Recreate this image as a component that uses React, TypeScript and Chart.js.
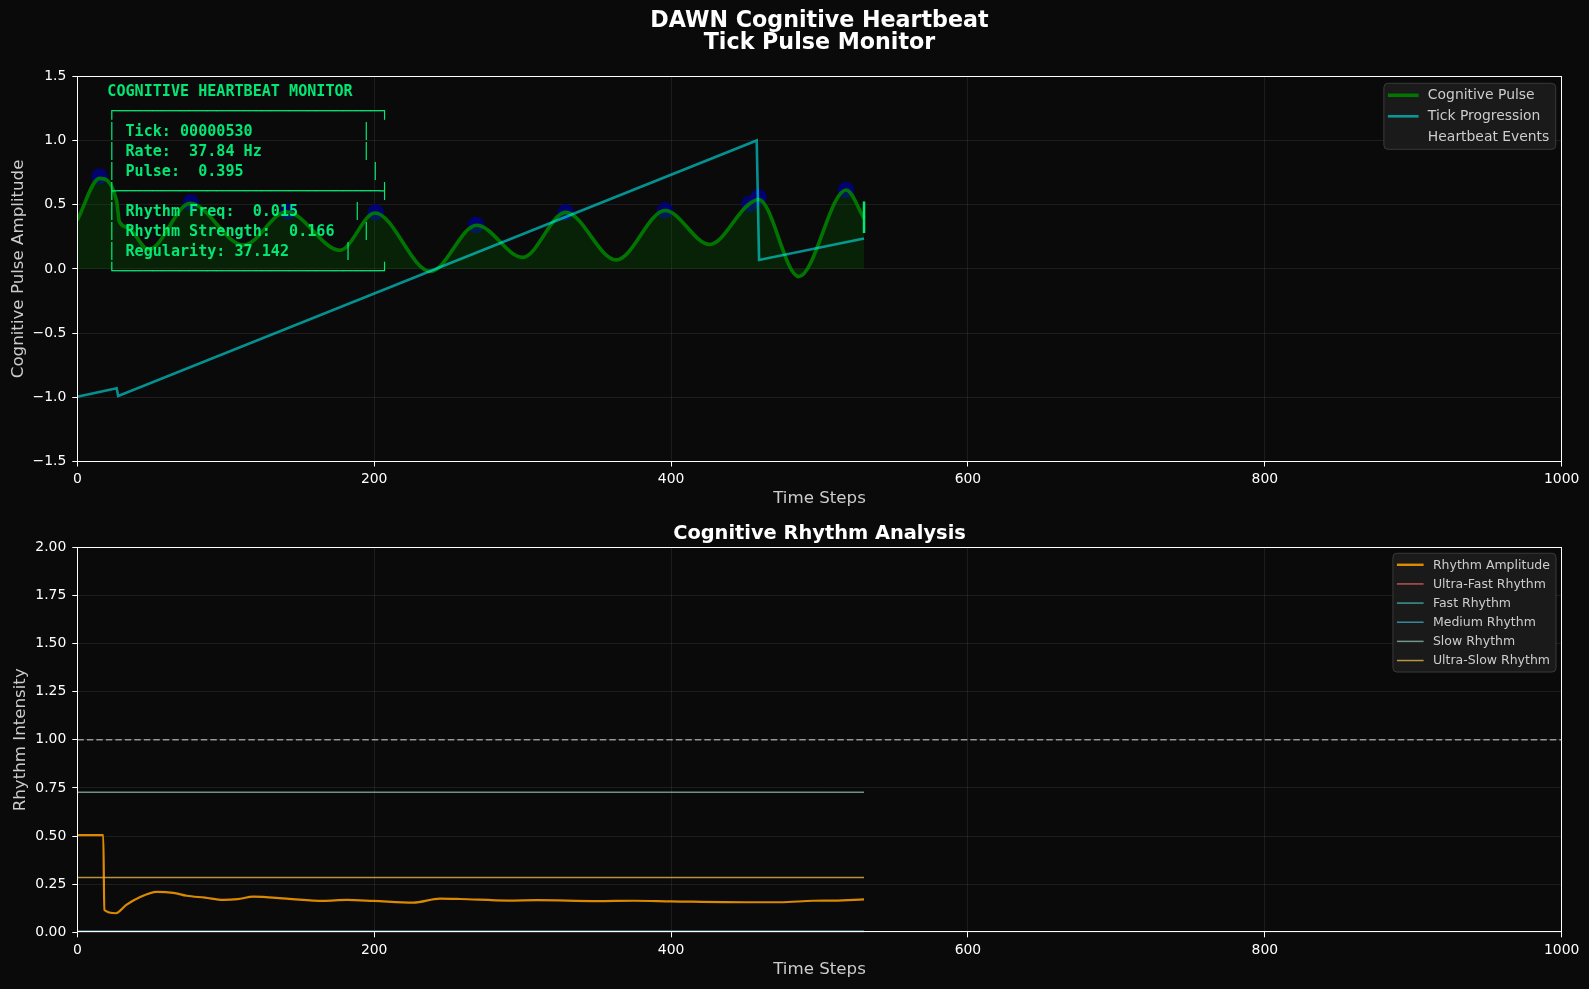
import React, { useEffect, useRef } from 'react';
import { Chart, registerables } from 'chart.js';

Chart.register(...registerables);

const FONT = "'DejaVu Sans', sans-serif";
const MONO = "'DejaVu Sans Mono', monospace";

// ---------- Top panel data ----------
const topTitle = ['DAWN Cognitive Heartbeat', 'Tick Pulse Monitor'];

const pulseSteps = [0, 15, 26.5, 28.3, 34.5, 48, 76, 112, 141, 177, 200.5, 238, 269, 300, 329, 363, 396, 426, 452, 459, 486, 518, 530];
const pulseValues = [0.38, 0.705, 0.53, 0.37, 0.32, 0.15, 0.51, 0.185, 0.445, 0.145, 0.435, -0.02, 0.34, 0.09, 0.44, 0.07, 0.455, 0.19, 0.5, 0.54, -0.06, 0.615, 0.395];

const tickSteps = [0, 26.5, 27.6, 457.7, 459.3, 530];
const tickValues = [-0.995, -0.93, -0.99, 1.0, 0.07, 0.237];

const eventSteps = [15, 76.5, 142, 201, 268.6, 329, 396, 452.7, 459, 517.8];
const eventValues = [0.72, 0.516, 0.446, 0.44, 0.343, 0.44, 0.455, 0.506, 0.558, 0.615];

const cursorSteps = [530, 530];
const cursorValues = [0.28, 0.525];

const monitorLines = [
  'COGNITIVE HEARTBEAT MONITOR',
  '┌' + '─'.repeat(29) + '┐',
  '│ Tick: 00000530            │',
  '│ Rate:  37.84 Hz           │',
  '│ Pulse:  0.395              │',
  '├' + '─'.repeat(29) + '┤',
  '│ Rhythm Freq:  0.015      │',
  '│ Rhythm Strength:  0.166   │',
  '│ Regularity: 37.142      │',
  '└' + '─'.repeat(29) + '┘',
];

// ---------- Bottom panel data ----------
const bottomTitle = 'Cognitive Rhythm Analysis';

const amplitudeSteps = [0, 17.5, 18.2, 26, 33, 42, 53.5, 64.7, 73.7, 86, 98.4, 108, 118.6, 141, 165.7, 181.5, 199.4, 226.4, 244.3, 257.8, 290, 310, 350, 375, 400, 450, 473.4, 495.7, 510, 530];
const amplitudeValues = [0.505, 0.505, 0.116, 0.099, 0.142, 0.182, 0.21, 0.205, 0.19, 0.18, 0.168, 0.172, 0.185, 0.175, 0.163, 0.168, 0.163, 0.154, 0.175, 0.173, 0.165, 0.167, 0.162, 0.164, 0.161, 0.156, 0.156, 0.164, 0.165, 0.171];

const bandSteps = [0, 530];
const ultraFastLevel = [0.002, 0.002];
const fastLevel = [0.004, 0.004];
const mediumLevel = [0.006, 0.006];
const slowLevel = [0.727, 0.727];
const ultraSlowLevel = [0.285, 0.285];

const refSteps = [0, 1000];
const refValues = [1.0, 1.0];

const pts = (xs: number[], ys: number[]) => xs.map((x, i) => ({ x, y: ys[i] }));

// ---------- Plugins ----------
const framePlugin = {
  id: 'frame',
  afterDraw(chart: any) {
    const { ctx, chartArea } = chart;
    const l = Math.round(chartArea.left) + 0.5;
    const t = Math.round(chartArea.top) + 0.5;
    const r = Math.round(chartArea.right) - 0.5;
    const b = Math.round(chartArea.bottom) - 0.5;
    ctx.save();
    ctx.strokeStyle = '#ffffff';
    ctx.lineWidth = 1;
    ctx.strokeRect(l, t, r - l, b - t);
    ctx.restore();
  },
};

const insideLegendPlugin = {
  id: 'insideLegend',
  afterDraw(chart: any, _args: any, opts: any) {
    if (!opts || !opts.display) return;
    const { ctx, chartArea } = chart;
    const items = chart.data.datasets.filter((d: any) => d.label);
    ctx.save();
    ctx.font = `${opts.fontSize}px ${FONT}`;
    const maxW = Math.max(...items.map((d: any) => ctx.measureText(d.label).width));
    const w = opts.inset + opts.handle + opts.gap + maxW + opts.padRight;
    const h = opts.rowTop * 2 + (items.length - 1) * opts.row;
    const x = chartArea.right - opts.marginRight - w;
    const y = chartArea.top + opts.marginTop;
    ctx.beginPath();
    ctx.roundRect(x, y, w, h, 4);
    ctx.fillStyle = 'rgba(28,28,28,0.92)';
    ctx.fill();
    ctx.strokeStyle = '#3a3a3a';
    ctx.lineWidth = 1;
    ctx.stroke();
    items.forEach((d: any, i: number) => {
      const cy = y + opts.rowTop + i * opts.row;
      if (d.showLine !== false) {
        ctx.beginPath();
        ctx.moveTo(x + opts.inset, cy);
        ctx.lineTo(x + opts.inset + opts.handle, cy);
        ctx.strokeStyle = d.borderColor;
        ctx.lineWidth = d.legendWidth || d.borderWidth;
        ctx.stroke();
      }
      ctx.fillStyle = '#cccccc';
      ctx.textBaseline = 'middle';
      ctx.textAlign = 'left';
      ctx.fillText(d.label, x + opts.inset + opts.handle + opts.gap, cy + 0.5);
    });
    ctx.restore();
  },
};

const monitorPlugin = {
  id: 'monitor',
  afterDatasetsDraw(chart: any, _args: any, opts: any) {
    if (!opts || !opts.display) return;
    const { ctx, chartArea } = chart;
    ctx.save();
    ctx.font = `bold 15.1px ${MONO}`;
    ctx.fillStyle = 'rgba(0,255,127,0.9)';
    ctx.textBaseline = 'middle';
    ctx.textAlign = 'left';
    monitorLines.forEach((line, i) => {
      ctx.fillText(line, chartArea.left + 30, chartArea.top + 16 + i * 20);
    });
    ctx.restore();
  },
};

const gridOpts = {
  color: 'rgba(128,128,128,0.16)',
  tickColor: '#ffffff',
  tickLength: 5,
  tickWidth: 1,
  lineWidth: 1,
};

function xScale(height: number, titlePadBottom: number) {
  return {
    type: 'linear',
    min: 0,
    max: 1000,
    ticks: {
      stepSize: 200,
      color: '#ffffff',
      font: { family: FONT, size: 13.9 },
      padding: 4.5,
      maxRotation: 0,
      callback: (v: any) => String(v),
    },
    grid: gridOpts,
    border: { display: false },
    title: {
      display: true,
      text: 'Time Steps',
      color: '#cccccc',
      font: { family: FONT, size: 16.67 },
      padding: { top: 0, bottom: titlePadBottom },
    },
    afterFit: (s: any) => {
      s.height = height;
    },
  };
}

function TopChart() {
  const ref = useRef<HTMLCanvasElement>(null);
  useEffect(() => {
    const chart = new Chart(ref.current as HTMLCanvasElement, {
      type: 'line',
      data: {
        datasets: [
          {
            label: 'Cognitive Pulse',
            data: pts(pulseSteps, pulseValues),
            borderColor: 'rgba(0,128,0,0.9)',
            borderWidth: 3.6,
            backgroundColor: 'rgba(0,128,0,0.2)',
            fill: { value: 0 },
            cubicInterpolationMode: 'monotone',
            pointRadius: 0,
            order: 1,
          },
          {
            label: 'Tick Progression',
            data: pts(tickSteps, tickValues),
            borderColor: 'rgba(0,255,255,0.55)',
            borderWidth: 2.6,
            fill: false,
            tension: 0,
            pointRadius: 0,
            order: 0,
          },
          {
            label: 'Heartbeat Events',
            data: pts(eventSteps, eventValues),
            showLine: false,
            pointRadius: 8.3,
            pointBorderWidth: 0,
            pointBackgroundColor: 'rgba(0,0,135,0.8)',
            borderColor: 'rgba(0,0,135,0.8)',
            fill: false,
            order: 2,
          },
          {
            data: pts(cursorSteps, cursorValues),
            borderColor: 'rgba(0,255,127,0.9)',
            borderWidth: 2.5,
            pointRadius: 0,
            fill: false,
            order: -1,
          },
        ] as any,
      },
      options: {
        responsive: false,
        animation: false,
        events: [],
        layout: { padding: { left: 0, right: 27.3, top: 0, bottom: 0 } },
        plugins: {
          legend: { display: false },
          tooltip: { enabled: false },
          title: {
            display: true,
            fullSize: false,
            text: topTitle,
            color: '#ffffff',
            font: { family: FONT, size: 22.2, weight: 'bold', lineHeight: 1.0 },
            padding: { top: 10.2, bottom: 21.7 },
          },
          insideLegend: {
            display: true,
            fontSize: 13.9,
            marginTop: 7,
            marginRight: 6,
            inset: 4,
            handle: 30.7,
            gap: 9.3,
            padRight: 6.4,
            rowTop: 12,
            row: 21,
          },
          monitor: { display: true },
        } as any,
        scales: {
          x: xScale(48.5, 1.4) as any,
          y: {
            min: -1.5,
            max: 1.5,
            ticks: {
              stepSize: 0.5,
              color: '#ffffff',
              font: { family: FONT, size: 13.9 },
              padding: 6,
              callback: (v: any) => Number(v).toFixed(1).replace('-', '\u2212'),
            },
            grid: gridOpts,
            border: { display: false },
            title: {
              display: true,
              text: 'Cognitive Pulse Amplitude',
              color: '#cccccc',
              font: { family: FONT, size: 16.67 },
              padding: { top: 8.2, bottom: 0 },
            },
            afterFit: (s: any) => {
              s.width = 77.3;
            },
          } as any,
        },
      },
      plugins: [framePlugin, insideLegendPlugin, monitorPlugin],
    });
    return () => chart.destroy();
  }, []);
  return <canvas ref={ref} width={1589} height={510} style={{ display: 'block' }} />;
}

function BottomChart() {
  const ref = useRef<HTMLCanvasElement>(null);
  useEffect(() => {
    const band = (label: string, color: string, levels: number[], order: number) => ({
      label,
      data: pts(bandSteps, levels),
      borderColor: color,
      borderWidth: 1.5,
      pointRadius: 0,
      fill: false,
      order,
    });
    const chart = new Chart(ref.current as HTMLCanvasElement, {
      type: 'line',
      data: {
        datasets: [
          {
            label: 'Rhythm Amplitude',
            data: pts(amplitudeSteps, amplitudeValues),
            borderColor: 'rgba(255,160,0,0.85)',
            borderWidth: 2.2,
            legendWidth: 2.4,
            pointRadius: 0,
            fill: false,
            cubicInterpolationMode: 'monotone',
            order: 0,
          },
          band('Ultra-Fast Rhythm', 'rgba(255,107,107,0.7)', ultraFastLevel, 5),
          band('Fast Rhythm', 'rgba(78,205,196,0.7)', fastLevel, 4),
          band('Medium Rhythm', 'rgba(69,183,209,0.7)', mediumLevel, 3),
          band('Slow Rhythm', 'rgba(150,206,180,0.7)', slowLevel, 2),
          band('Ultra-Slow Rhythm', 'rgba(254,202,87,0.7)', ultraSlowLevel, 1),
          {
            data: pts(refSteps, refValues),
            borderColor: 'rgba(255,255,255,0.55)',
            borderWidth: 1.5,
            borderDash: [6.5, 3],
            pointRadius: 0,
            fill: false,
            order: 6,
          },
        ] as any,
      },
      options: {
        responsive: false,
        animation: false,
        events: [],
        layout: { padding: { left: 0, right: 27.3, top: 0, bottom: 0 } },
        plugins: {
          legend: { display: false },
          tooltip: { enabled: false },
          title: {
            display: true,
            fullSize: false,
            text: bottomTitle,
            color: '#ffffff',
            font: { family: FONT, size: 19.4, weight: 'bold', lineHeight: 1.2 },
            padding: { top: 12.35, bottom: 1.65 },
          },
          insideLegend: {
            display: true,
            fontSize: 12.5,
            marginTop: 6,
            marginRight: 5.7,
            inset: 4,
            handle: 26.7,
            gap: 9.3,
            padRight: 6,
            rowTop: 11.5,
            row: 19.15,
          },
        } as any,
        scales: {
          x: xScale(56.7, 9) as any,
          y: {
            min: 0,
            max: 2,
            ticks: {
              stepSize: 0.25,
              color: '#ffffff',
              font: { family: FONT, size: 13.9 },
              padding: 6,
              callback: (v: any) => Number(v).toFixed(2),
            },
            grid: gridOpts,
            border: { display: false },
            title: {
              display: true,
              text: 'Rhythm Intensity',
              color: '#cccccc',
              font: { family: FONT, size: 16.67 },
              padding: { top: 10.3, bottom: 0 },
            },
            afterFit: (s: any) => {
              s.width = 77.3;
            },
          } as any,
        },
      },
      plugins: [framePlugin, insideLegendPlugin],
    });
    return () => chart.destroy();
  }, []);
  return <canvas ref={ref} width={1589} height={479} style={{ display: 'block' }} />;
}

export default function App() {
  useEffect(() => {
    document.body.style.margin = '0';
    document.body.style.background = '#0a0a0a';
  }, []);
  return (
    <div style={{ width: 1589, height: 989, background: '#0a0a0a', overflow: 'hidden' }}>
      <TopChart />
      <BottomChart />
    </div>
  );
}
